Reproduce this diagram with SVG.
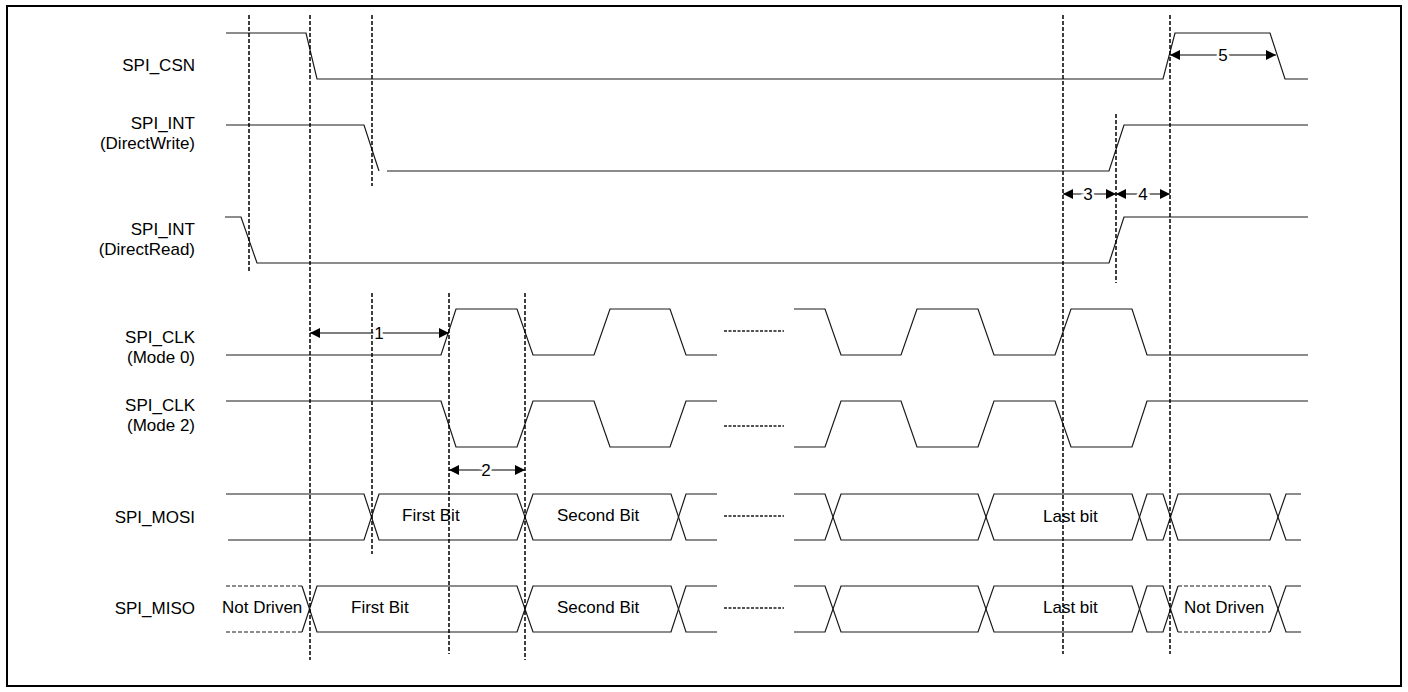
<svg xmlns="http://www.w3.org/2000/svg" width="1408" height="692" viewBox="0 0 1408 692">
<style>
text{font-family:"Liberation Sans",Arial,sans-serif;font-size:17px;fill:#000}
.lbl{text-anchor:end}
.sig{fill:none;stroke:#1a1a1a;stroke-width:1.2}
.nd{fill:none;stroke:#1a1a1a;stroke-width:1.2;stroke-dasharray:4 2}
.gap{fill:none;stroke:#1a1a1a;stroke-width:1.5;stroke-dasharray:3 1.5}
.guide{fill:none;stroke:#000;stroke-width:1.5;stroke-dasharray:4 2}
.dim{fill:none;stroke:#000;stroke-width:1.2;marker-start:url(#ah);marker-end:url(#ah)}
.num{text-anchor:middle;stroke:#fff;stroke-width:5;paint-order:stroke}
</style>
<defs>
<marker id="ah" viewBox="0 0 10 10" refX="10" refY="5" markerWidth="10" markerHeight="10" markerUnits="userSpaceOnUse" orient="auto-start-reverse">
<path d="M0,0 L10,5 L0,10 z" fill="#000"/>
</marker>
</defs>
<rect x="7" y="6" width="1394" height="680" fill="#fff" stroke="#000" stroke-width="2"/>

<g id="spi_csn">
<text class="lbl" x="195" y="71">SPI_CSN</text>
<path class="sig" d="M226,33 H306 L317,79 H1163 L1175,33 H1270 L1285,79 H1308"/>
</g>

<g id="spi_int_directwrite">
<text class="lbl" x="195" y="129">SPI_INT</text>
<text class="lbl" x="195" y="148.5">(DirectWrite)</text>
<path class="sig" d="M226,125 H364 L379,171"/>
<path class="sig" d="M387,171 H1109 L1124,125 H1308"/>
</g>

<g id="spi_int_directread">
<text class="lbl" x="195" y="235">SPI_INT</text>
<text class="lbl" x="195" y="254.5">(DirectRead)</text>
<path class="sig" d="M225,217 H241 L257,263 H1109 L1124,217 H1308"/>
</g>

<g id="spi_clk_mode0">
<text class="lbl" x="195" y="343">SPI_CLK</text>
<text class="lbl" x="195" y="362.5">(Mode 0)</text>
<path class="sig" d="M226,355 H441 L456,309 H517 L533,355 H594 L610,309 H670 L686,355 H717"/>
<path class="gap" d="M724,331 H784"/>
<path class="sig" d="M794,309 H825 L841,355 H901 L917,309 H978 L994,355 H1055 L1071,309 H1132 L1147,355 H1308"/>
</g>

<g id="spi_clk_mode2">
<text class="lbl" x="195" y="411">SPI_CLK</text>
<text class="lbl" x="195" y="430.5">(Mode 2)</text>
<path class="sig" d="M226,401 H441 L456,447 H517 L533,401 H594 L610,447 H670 L686,401 H717"/>
<path class="gap" d="M724,426 H784"/>
<path class="sig" d="M794,447 H825 L841,401 H901 L917,447 H978 L994,401 H1055 L1071,447 H1132 L1147,401 H1308"/>
</g>

<g id="spi_mosi">
<text class="lbl" x="195" y="523">SPI_MOSI</text>
<path class="sig" d="M226,494 H364 L379,540 H517 L533,494 H671 L686,540 H717"/>
<path class="sig" d="M228,540 H364 L379,494 H517 L533,540 H671 L686,494 H717"/>
<path class="gap" d="M724,516 H784"/>
<path class="sig" d="M794,494 H825 L841,540 H978 L994,494 H1132 L1147,540 H1163 L1178,494 H1270 L1286,540 H1301"/>
<path class="sig" d="M794,540 H825 L841,494 H978 L994,540 H1132 L1147,494 H1163 L1178,540 H1270 L1286,494 H1301"/>
<text x="402" y="521">First Bit</text>
<text x="557" y="521">Second Bit</text>
<text x="1043" y="521.5">Last bit</text>
</g>

<g id="spi_miso">
<text class="lbl" x="195" y="614">SPI_MISO</text>
<path class="nd" d="M226,586 H302"/>
<path class="nd" d="M226,632 H302"/>
<path class="sig" d="M302,586 L317,632 H517 L533,586 H671 L686,632 H717"/>
<path class="sig" d="M302,632 L317,586 H517 L533,632 H671 L686,586 H717"/>
<path class="gap" d="M724,608 H784"/>
<path class="sig" d="M794,586 H825 L841,632 H978 L994,586 H1132 L1147,632 H1163 L1178,586"/>
<path class="sig" d="M794,632 H825 L841,586 H978 L994,632 H1132 L1147,586 H1163 L1178,632"/>
<path class="nd" d="M1178,586 H1270"/>
<path class="nd" d="M1178,632 H1270"/>
<path class="sig" d="M1270,586 L1286,632 H1301"/>
<path class="sig" d="M1270,632 L1286,586 H1301"/>
<text x="222" y="613">Not Driven</text>
<text x="351" y="613">First Bit</text>
<text x="557" y="613">Second Bit</text>
<text x="1043" y="613">Last bit</text>
<text x="1184" y="613">Not Driven</text>
</g>

<g id="guides">
<path class="guide" d="M249,15 V271"/>
<path class="guide" d="M310,15 V660"/>
<path class="guide" d="M372,15 V186"/>
<path class="guide" d="M372,293 V554"/>
<path class="guide" d="M449,293 V654"/>
<path class="guide" d="M525,293 V660"/>
<path class="guide" d="M1063,15 V654"/>
<path class="guide" d="M1116,114 V283"/>
<path class="guide" d="M1170,15 V654"/>
</g>

<g id="connectors">
<line class="dim" x1="310" y1="333" x2="449" y2="333"/>
<text class="num" x="379" y="339">1</text>
<line class="dim" x1="449" y1="470" x2="525" y2="470"/>
<text class="num" x="486" y="476">2</text>
<line class="dim" x1="1063" y1="194" x2="1116" y2="194"/>
<text class="num" x="1088" y="200">3</text>
<line class="dim" x1="1116" y1="194" x2="1170" y2="194"/>
<text class="num" x="1143" y="200">4</text>
<line class="dim" x1="1170" y1="55" x2="1276" y2="55"/>
<text class="num" x="1223" y="61">5</text>
</g>
</svg>
